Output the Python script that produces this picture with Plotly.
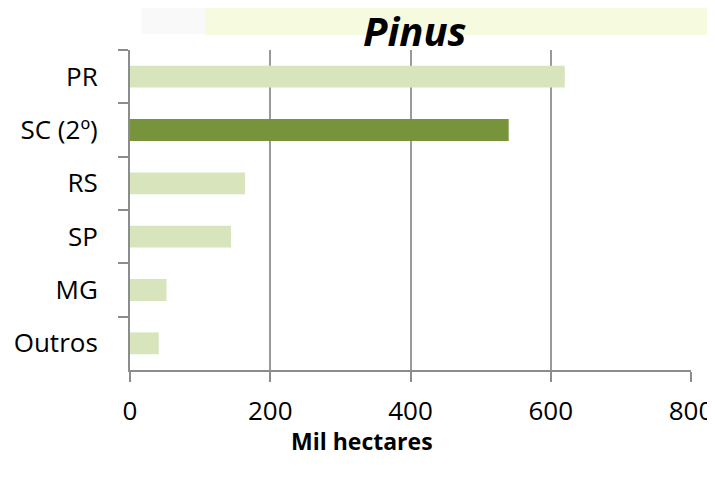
import plotly.graph_objects as go

# área plantada de Pinus por estado (mil hectares)
estados = ["PR", "SC (2º)", "RS", "SP", "MG", "Outros"]
area = [620, 540, 164, 144, 52, 41]
destaque = "SC (2º)"

x_ticks = [0, 200, 400, 600, 800]

cor_clara = "#d8e4bc"
cor_escura = "#77933c"
cores = [cor_escura if e == destaque else cor_clara for e in estados]

fonte = "Open Sans, Liberation Sans, sans-serif"

fig = go.Figure()
fig.add_trace(go.Bar(
    y=estados,
    x=area,
    orientation="h",
    marker=dict(color=cores, line=dict(width=0)),
    width=0.41,
    hoverinfo="x+y",
))

# a página tem margem de 8px no body, por isso a figura é 8px menor
fig.update_layout(
    width=707,
    height=471,
    margin=dict(l=122, r=24, t=42, b=109, autoexpand=False),
    paper_bgcolor="white",
    plot_bgcolor="white",
    showlegend=False,
    font=dict(family=fonte, size=26, color="black"),
    bargap=0.59,
)

fig.update_xaxes(
    range=[0, 800],
    tickvals=x_ticks,
    showgrid=True,
    gridcolor="#9a9a9a",
    gridwidth=2,
    showline=True,
    linecolor="#8c8c8c",
    linewidth=2,
    ticks="outside",
    ticklen=10,
    tickwidth=2,
    tickcolor="#8c8c8c",
    ticklabelstandoff=7,
    zeroline=False,
    automargin=False,
    fixedrange=True,
)

fig.update_yaxes(
    autorange="reversed",
    type="category",
    tickson="boundaries",
    showline=True,
    linecolor="#8c8c8c",
    linewidth=2,
    ticks="outside",
    ticklen=10,
    tickwidth=2,
    tickcolor="#8c8c8c",
    ticklabelstandoff=25,
    showgrid=False,
    automargin=False,
    fixedrange=True,
)

# fundo esmaecido no topo (resto da imagem do slide)
fig.add_shape(type="rect", xref="paper", yref="paper",
              x0=0.02, x1=0.14, y0=1.05, y1=1.16,
              fillcolor="#f3f3f3", opacity=0.5, line=dict(width=0), layer="below")
fig.add_shape(type="rect", xref="paper", yref="paper",
              x0=0.134, x1=1.05, y0=1.047, y1=1.16,
              fillcolor="#f6fadf", line=dict(width=0), layer="below")

fig.add_annotation(
    text="<b><i>Pinus</i></b>",
    xref="paper", yref="paper",
    x=0.508, y=1.06, yanchor="middle", xanchor="center",
    showarrow=False,
    font=dict(family=fonte, size=40, color="black"),
)
fig.add_annotation(
    text="<b>Mil hectares</b>",
    xref="paper", yref="paper",
    x=0.4135, y=-0.222, yanchor="middle", xanchor="center",
    showarrow=False,
    font=dict(family=fonte, size=23, color="black"),
)

fig.write_html("out.html")
